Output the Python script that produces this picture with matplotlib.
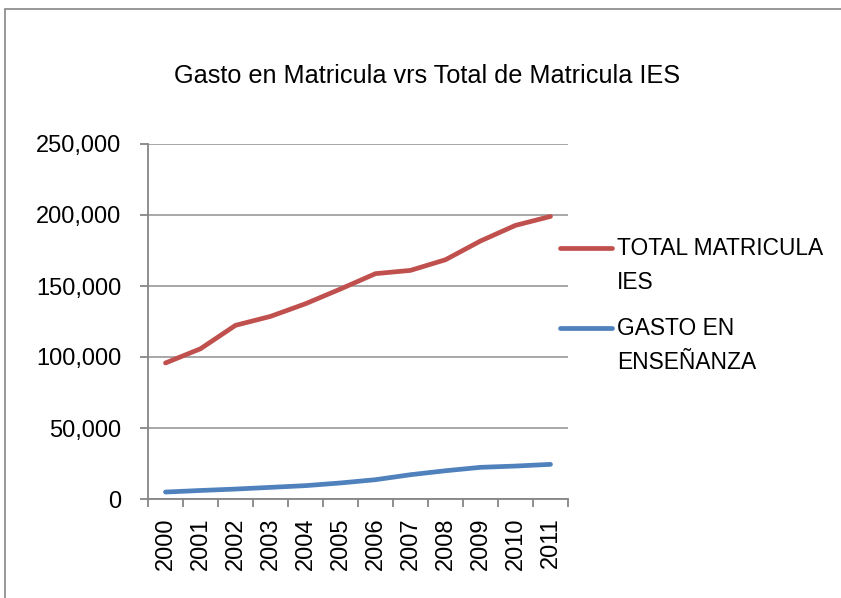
import matplotlib
matplotlib.use("Agg")
import matplotlib.pyplot as plt
import matplotlib.ticker as tick
from matplotlib.patches import Rectangle
from matplotlib.lines import Line2D

years = ['2000', '2001', '2002', '2003', '2004', '2005',
         '2006', '2007', '2008', '2009', '2010', '2011']
total_matricula = [95800, 105800, 122300, 128600, 137500, 147900,
                   158700, 161000, 168500, 181700, 192700, 199000]
gasto_ensenanza = [4900, 6000, 7000, 8200, 9400, 11300,
                   13600, 17100, 19900, 22300, 23200, 24400]
series_names = ['TOTAL MATRICULA\nIES', 'GASTO EN\nENSEÑANZA']
series_colors = ['#C0504D', '#4F81BD']

plt.rcParams['font.family'] = ['Liberation Sans', 'DejaVu Sans']

W, H = 841, 598
fig = plt.figure(figsize=(W / 100, H / 100), dpi=100)
ax = fig.add_axes([148 / W, 1 - 499 / H, 420 / W, 355 / H])

# outer chart frame
fig.patches.append(Rectangle((5 / W, -0.5), 2, 1.5 - 9 / H, transform=fig.transFigure,
                             fill=False, edgecolor='#868686', linewidth=1.2))

x = list(range(len(years)))
for vals, name, col in zip([total_matricula, gasto_ensenanza], series_names, series_colors):
    ax.plot(x, vals, color=col, lw=3.4, solid_capstyle='round',
            solid_joinstyle='round', label=name, zorder=3)

ax.set_xlim(-0.5, len(years) - 0.5)
ax.set_ylim(0, 250000)
ax.yaxis.set_major_locator(tick.MultipleLocator(50000))
ax.yaxis.set_major_formatter(tick.FuncFormatter(lambda v, p: '{:,.0f}'.format(v)))
ax.grid(True, axis='y', color='#A0A0A0', lw=1.3)
ax.set_axisbelow(True)

# category boundaries as tick marks, labels centred on the categories
ax.set_xticks([i - 0.5 for i in range(len(years) + 1)])
ax.set_xticklabels([])
ax.set_xticks(x, minor=True)
ax.set_xticklabels(years, minor=True, rotation=90, fontsize=17)
ax.tick_params(axis='x', which='major', length=6, width=1.3, color='#868686', direction='out')
ax.tick_params(axis='x', which='minor', length=0, pad=13)
ax.tick_params(axis='y', length=6, width=1.3, color='#868686', labelsize=17, pad=13)

for s in ['top', 'right']:
    ax.spines[s].set_visible(False)
for s in ['left', 'bottom']:
    ax.spines[s].set_color('#868686')
    ax.spines[s].set_linewidth(1.3)

fig.text(427 / W, 1 - 76 / H, 'Gasto en Matricula vrs Total de Matricula IES',
         ha='center', va='center', fontsize=18.2)

# legend drawn by hand so the key lines up with the first text line
for name, col, ky in zip(series_names, series_colors, [248, 328]):
    fig.add_artist(Line2D([560 / W, 612 / W], [1 - ky / H, 1 - ky / H], color=col,
                          lw=3.4, solid_capstyle='round', transform=fig.transFigure))
    fig.text(617 / W, 1 - (ky - 11) / H, name, ha='left', va='top',
             fontsize=16.4, linespacing=1.6)

fig.savefig('out.png', dpi=100)
